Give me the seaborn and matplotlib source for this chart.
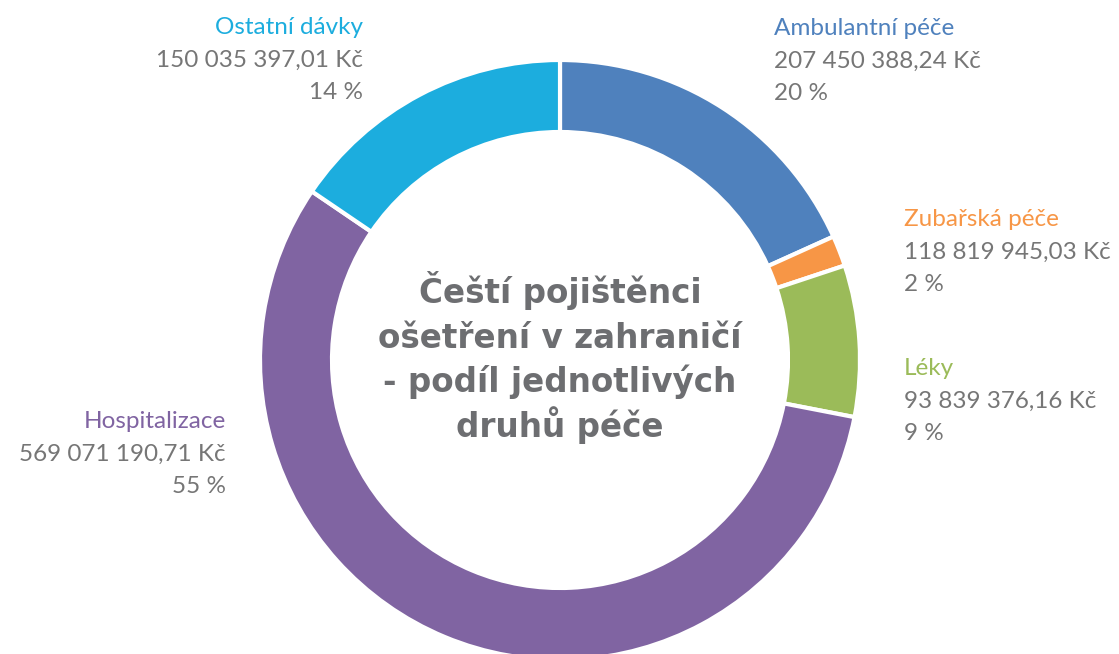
import numpy as np
import seaborn as sns
import matplotlib
matplotlib.use("Agg")
import matplotlib.pyplot as plt

# data
categories = ["Ambulantní péče", "Zubařská péče", "Léky", "Hospitalizace", "Ostatní dávky"]
amounts = [207450388.24, 118819945.03, 93839376.16, 569071190.71, 150035397.01]
percents = [20, 2, 9, 55, 14]
# slice sizes as drawn in the picture (share of the ring, %)
shares = [18.25, 1.65, 8.15, 56.45, 15.5]
colors = ["#4F81BD", "#F79646", "#9BBB59", "#8064A2", "#1CADDE"]

title_lines = ["Čeští pojištěnci", "ošetření v zahraničí", "- podíl jednotlivých", "druhů péče"]

sns.set_theme(style="white")
plt.rcParams["font.family"] = ["Lato", "DejaVu Sans"]

W, H = 1119, 654
fig = plt.figure(figsize=(W / 100, H / 100), dpi=100)
ax = fig.add_axes([0, 0, 1, 1])

cx, cy, R = 560, H - 360, 300
ax.pie(shares, colors=colors, startangle=90, counterclock=False,
       center=(cx, cy), radius=R,
       wedgeprops=dict(width=72, edgecolor="white", linewidth=3))
ax.set_xlim(0, W)
ax.set_ylim(0, H)
ax.set_aspect("equal")
ax.axis("off")


def fmt_amount(v):
    return f"{v:,.2f}".replace(",", " ").replace(".", ",") + " Kč"


# label anchor (x, first baseline from top, alignment) per category
label_pos = {
    "Ambulantní péče": (774, 35, "left"),
    "Zubařská péče": (904, 226, "left"),
    "Léky": (904, 375, "left"),
    "Hospitalizace": (226, 428, "right"),
    "Ostatní dávky": (363, 34, "right"),
}
gray = "#767676"
step = 32.5
for name, amt, pct, col in zip(categories, amounts, percents, colors):
    x, y0, ha = label_pos[name]
    ax.text(x, H - y0, name, color=col, fontsize=17.5, ha=ha, va="baseline")
    ax.text(x, H - y0 - step, fmt_amount(amt), color=gray, fontsize=17.5, ha=ha, va="baseline")
    ax.text(x, H - y0 - 2 * step, f"{pct} %", color=gray, fontsize=17.5, ha=ha, va="baseline")

for i, line in enumerate(title_lines):
    ax.text(cx, H - 303 - i * 44.7, line, color="#6D6E71", fontsize=23.5,
            fontweight="bold", family=["DejaVu Sans"], ha="center", va="baseline")

fig.savefig("out.png", dpi=100, facecolor="white")
